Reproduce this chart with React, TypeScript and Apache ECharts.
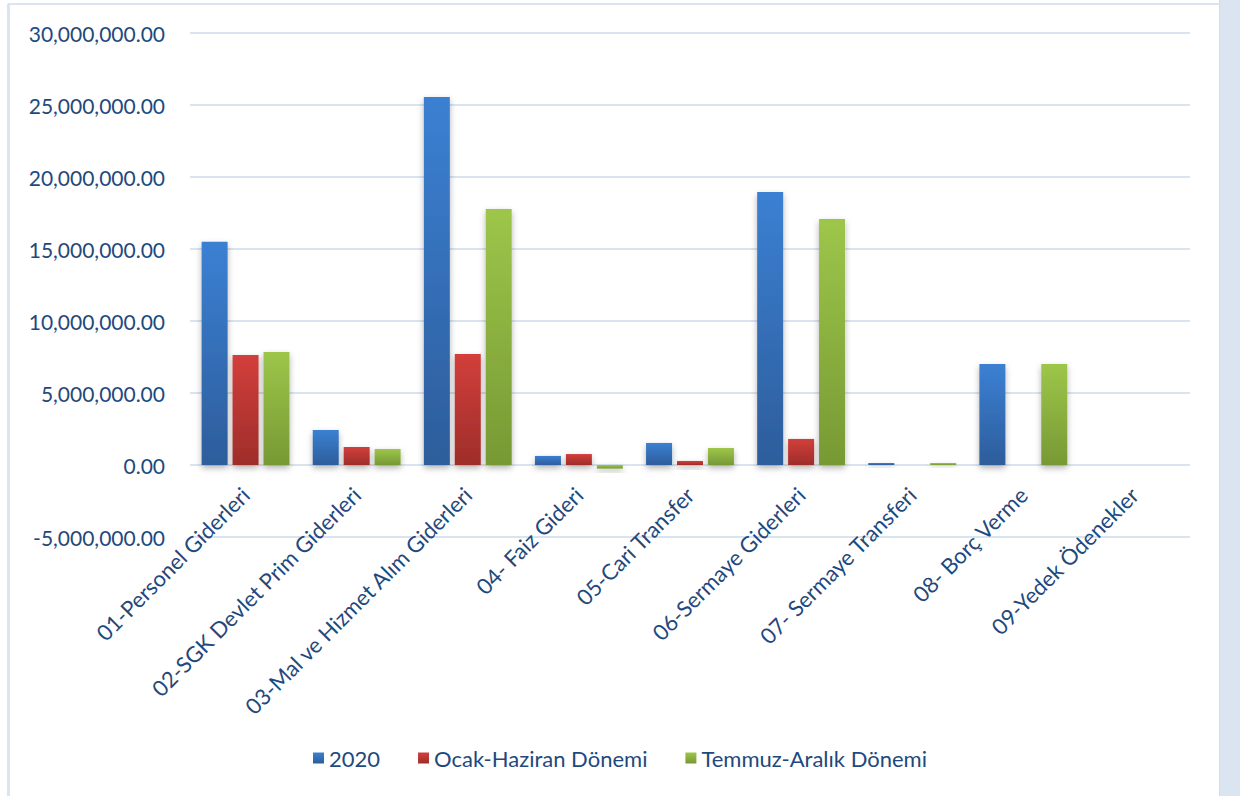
import React, { useEffect, useRef } from "react";
import * as echarts from "echarts";

const categories = [
  "01-Personel Giderleri",
  "02-SGK Devlet Prim Giderleri",
  "03-Mal ve Hizmet Alım Giderleri",
  "04- Faiz Gideri",
  "05-Cari Transfer",
  "06-Sermaye Giderleri",
  "07- Sermaye Transferi",
  "08- Borç Verme",
  "09-Yedek Ödenekler",
];
const seriesNames = ["2020", "Ocak-Haziran Dönemi", "Temmuz-Aralık Dönemi"];
const values2020 = [15500000, 2430000, 25560000, 630000, 1530000, 18960000, 140000, 7010000, 0];
const valuesH1 = [7640000, 1250000, 7710000, 760000, 280000, 1810000, 0, 0, 0];
const valuesH2 = [7850000, 1110000, 17780000, -250000, 1180000, 17080000, 140000, 7010000, 0];

const grad = (top: string, bottom: string) =>
  new echarts.graphic.LinearGradient(0, 0, 0, 1, [
    { offset: 0, color: top },
    { offset: 1, color: bottom },
  ]);

const FONT = "Lato";
const TEXT = "#1f497d";

export default function App() {
  const ref = useRef<HTMLDivElement>(null);
  useEffect(() => {
    const chart = echarts.init(ref.current!, null, { renderer: "svg" });
    const fmt = (v: number) =>
      v.toLocaleString("en-US", { minimumFractionDigits: 2, maximumFractionDigits: 2 });
    const colors = [
      ["#3b80d3", "#2d5d9b"],
      ["#d23f3b", "#9e2d2a"],
      ["#9dc64a", "#779934"],
    ];
    const data = [values2020, valuesH1, valuesH2];
    chart.setOption({
      animation: false,
      backgroundColor: "#ffffff",
      graphic: [
        { type: "rect", shape: { x: 1219, y: 0, width: 21, height: 796 }, style: { fill: "#dbe5f1" } },
        { type: "line", shape: { x1: 1219.5, y1: 0, x2: 1219.5, y2: 796 }, style: { stroke: "#cfdcec", lineWidth: 1 } },
        { type: "line", shape: { x1: 8, y1: 4, x2: 1219, y2: 4 }, style: { stroke: "#dbe5f1", lineWidth: 2 } },
        { type: "line", shape: { x1: 8.5, y1: 4, x2: 8.5, y2: 796 }, style: { stroke: "#dbe5f1", lineWidth: 3 } },
      ],
      grid: { left: 190, right: 50, top: 33, bottom: 259, containLabel: false },
      legend: {
        top: 742,
        left: 308,
        itemWidth: 11,
        itemHeight: 11,
        itemGap: 38,
        icon: "rect",
        textStyle: { color: TEXT, fontFamily: FONT, fontSize: 22 },
        data: seriesNames,
      },
      xAxis: {
        type: "category",
        data: categories,
        axisLine: { show: false },
        axisTick: { show: false },
        axisLabel: {
          rotate: 45,
          interval: 0,
          color: TEXT,
          fontFamily: FONT,
          fontSize: 22,
          margin: -46,
        },
      },
      yAxis: {
        type: "value",
        min: -5000000,
        max: 30000000,
        interval: 5000000,
        axisLine: { show: false },
        axisTick: { show: false },
        axisLabel: {
          formatter: fmt,
          color: TEXT,
          fontFamily: FONT,
          fontSize: 21,
          margin: 25,
        },
        splitLine: { lineStyle: { color: "#d9e4f1", width: 2 } },
      },
      series: seriesNames.map((name, i) => ({
        name,
        type: "bar",
        data: data[i],
        barWidth: 26,
        barGap: "19%",
        itemStyle: {
          color: grad(colors[i][0], colors[i][1]),
          shadowBlur: 6,
          shadowOffsetY: 3,
          shadowColor: "rgba(0,0,0,0.3)",
        },
      })),
    });
    return () => chart.dispose();
  }, []);
  return (
    <div
      ref={ref}
      style={{ position: "fixed", left: 0, top: 0, width: 1240, height: 796 }}
    />
  );
}
